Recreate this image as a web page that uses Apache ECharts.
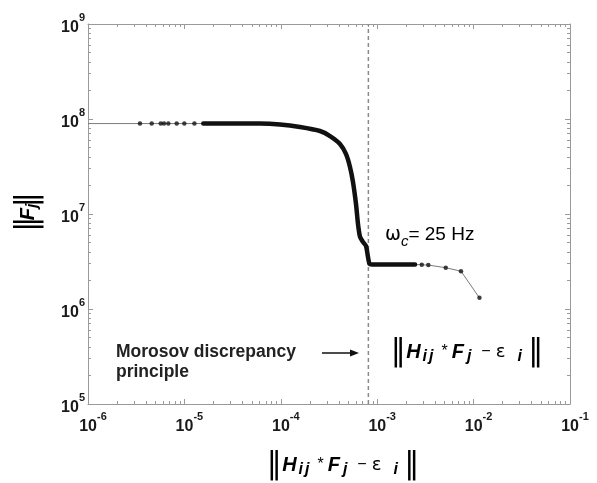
<!DOCTYPE html>
<html>
<head>
<meta charset="utf-8">
<script src="https://cdn.jsdelivr.net/npm/echarts@6/dist/echarts.min.js"></script>
<style>
html,body{margin:0;padding:0;background:#fff;}
#c{width:597px;height:483px;}
</style>
</head>
<body>
<div id="c"></div>
<script>
// ---- data ----
const xMin = 1e-6, xMax = 1e-1;
const yMin = 1e5, yMax = 1e9;
// tick decades
const xDecades = [1e-6, 1e-5, 1e-4, 1e-3, 1e-2];
const yDecades = [1e5, 1e6, 1e7, 1e8];
const minorMult = [2, 3, 4, 5, 6, 7, 8, 9];
// sparse leading dots on the plateau
const leadX = [1e-6, 3.46e-6, 4.58e-6, 5.68e-6, 6.14e-6, 6.81e-6, 8.32e-6, 9.98e-6, 1.27e-5, 1.57e-5];
const leadY = [8.95e7, 8.95e7, 8.95e7, 8.95e7, 8.95e7, 8.95e7, 8.95e7, 8.95e7, 8.95e7, 8.95e7];
// dense part of the L-curve (overlapping points)
const denseX = [1.57e-5, 6.08e-5, 9.81e-5, 1.58e-4, 2.55e-4, 3.24e-4, 4.11e-4, 4.74e-4, 5.22e-4, 5.61e-4, 6.03e-4, 6.32e-4, 6.64e-4, 7.13e-4, 7.66e-4, 8.03e-4, 8.32e-4, 8.83e-4, 2.47e-3];
const denseY = [8.95e7, 8.95e7, 8.75e7, 8.24e7, 7.48e7, 6.62e7, 5.46e7, 4.29e7, 3.13e7, 2.17e7, 1.27e7, 7.85e6, 5.73e6, 5.07e6, 4.60e6, 3.52e6, 2.98e6, 2.94e6, 2.94e6];
// sparse trailing dots
const tailX = [2.47e-3, 2.90e-3, 3.39e-3, 5.14e-3, 7.40e-3, 1.15e-2];
const tailY = [2.94e6, 2.92e6, 2.90e6, 2.72e6, 2.50e6, 1.31e6];
// Morosov discrepancy level
const morosovX = 8.1e-4;

const zip = (xs, ys) => xs.map((x, i) => [x, ys[i]]);
const allPts = zip(leadX, leadY).concat(zip(denseX, denseY).slice(1), zip(tailX, tailY).slice(1));
const dotPts = zip(leadX, leadY).slice(1, -1).concat(zip(tailX, tailY).slice(1));
const minorOf = decs => decs.flatMap(d => minorMult.map(m => m * d));

const F = 'Liberation Sans, Arial, sans-serif';
const axisGray = '#9a9a9a';

function expOf(v) { return Math.round(Math.log10(v)); }
const labelRich = {
  sp: { width: 10 },
  b: { fontSize: 16, fontWeight: 'bold', fontFamily: F, color: '#1a1a1a', lineHeight: 24, verticalAlign: 'bottom' },
  s: { fontSize: 11, fontWeight: 'bold', fontFamily: F, color: '#1a1a1a', lineHeight: 24, verticalAlign: 'top' }
};

function mkAxis(kind, pos, major, show) {
  const isX = kind === 'x';
  const ax = {
    type: 'log', logBase: 10, position: pos, gridIndex: 0,
    min: isX ? xMin : yMin, max: isX ? xMax : yMax,
    axisLine: { show: major, onZero: false, lineStyle: { color: axisGray, width: 1 } },
    splitLine: { show: false },
    axisTick: { show: true, inside: true, length: major ? 5 : 3, lineStyle: { color: axisGray } },
    axisLabel: { show: false }
  };
  if (!major) {
    ax.axisTick.customValues = minorOf(isX ? xDecades : yDecades);
  }
  if (show) {
    ax.axisLabel = isX ? {
      margin: 7,
      formatter: v => '{sp|}{b|10}{s|' + expOf(v) + '}',
      rich: labelRich
    } : {
      margin: 3,
      formatter: v => '{b|10}{s|' + expOf(v) + '}',
      rich: labelRich
    };
  }
  return ax;
}

const normRich = (size) => {
  const r = {
    bar: { fontSize: 30, fontFamily: 'DejaVu Sans', color: '#666', lineHeight: 32, width: 8, align: 'center' },
    m: { fontSize: size, fontWeight: 'bold', fontStyle: 'italic', fontFamily: F, color: '#111', lineHeight: 32 },
    sub: { fontSize: size - 4, fontWeight: 'bold', fontStyle: 'italic', fontFamily: F, color: '#111', lineHeight: 32, verticalAlign: 'bottom', padding: [0, 0, 3, 0] },
    op: { fontSize: size - 4, fontFamily: F, color: '#111', lineHeight: 32 },
    eps: { fontSize: size - 2, fontFamily: 'DejaVu Sans', color: '#111', lineHeight: 32 }
  };
  [1, 2, 3, 4, 5, 8, 10, 12, 13].forEach(n => { r['g' + n] = { width: n, lineHeight: 32 }; });
  return r;
};
const normText = '{bar|‖}{g4|}{m|H}{g2|}{sub|i}{g2|}{sub|j}{g8|}{op|*}{g4|}{m|F}{g3|}{sub|j}{g10|}{op|−}{g5|}{eps|ε}{g12|}{sub|i}{g10|}{bar|‖}';
const yNameText = '{bar|‖}{m|F}{sub|j}{bar|‖}';

const chart = echarts.init(document.getElementById('c'));
chart.setOption({
  backgroundColor: '#ffffff',
  animation: false,
  grid: { left: 88, right: 27, top: 24, bottom: 79, containLabel: false },
  xAxis: [mkAxis('x', 'bottom', true, true), mkAxis('x', 'top', true, false), mkAxis('x', 'bottom', false, false), mkAxis('x', 'top', false, false)],
  yAxis: [mkAxis('y', 'left', true, true), mkAxis('y', 'right', true, false), mkAxis('y', 'left', false, false), mkAxis('y', 'right', false, false)],
  series: [
    {
      type: 'line', data: [[morosovX, yMin], [morosovX, yMax]], xAxisIndex: 0, yAxisIndex: 0,
      symbol: 'none', lineStyle: { color: '#8a8a8a', type: [4, 3], width: 1.5 }, z: 1, silent: true
    },
    {
      type: 'line', data: allPts, xAxisIndex: 0, yAxisIndex: 0,
      symbol: 'none', lineStyle: { color: '#7a7a7a', width: 1 }, z: 2
    },
    {
      type: 'line', data: zip(denseX, denseY), xAxisIndex: 0, yAxisIndex: 0, smooth: 0.2,
      symbol: 'none', lineStyle: { color: '#111', width: 4.5, join: 'round', cap: 'round' }, z: 3
    },
    {
      type: 'scatter', data: dotPts, xAxisIndex: 0, yAxisIndex: 0,
      symbol: 'circle', symbolSize: 4.5, itemStyle: { color: '#111' }, z: 4
    }
  ],
  graphic: [
    { type: 'text', x: 28, y: 212, rotation: Math.PI / 2, silent: true,
      style: { text: yNameText, rich: normRich(20), align: 'center', verticalAlign: 'middle' } },
    { type: 'text', x: 343, y: 465, silent: true,
      style: { text: normText, rich: normRich(20), align: 'center', verticalAlign: 'middle' } },
    { type: 'text', x: 467, y: 352, silent: true,
      style: { text: normText, rich: normRich(20), align: 'center', verticalAlign: 'middle' } },
    { type: 'text', x: 385, y: 235, silent: true,
      style: { text: '{w|ω}{c|c}{t|= 25 Hz}', verticalAlign: 'middle',
        rich: {
          w: { fontSize: 19, fontFamily: 'DejaVu Sans', color: '#222', lineHeight: 28 },
          c: { fontSize: 15, fontStyle: 'italic', fontFamily: F, color: '#222', lineHeight: 28, verticalAlign: 'bottom' },
          t: { fontSize: 19, fontFamily: F, color: '#222', lineHeight: 28 }
        } } },
    { type: 'text', x: 116, y: 342, silent: true,
      style: { text: 'Morosov discrepancy\nprinciple', fontSize: 17.5, fontWeight: 'bold', fontFamily: F, fill: '#222', lineHeight: 20 } },
    { type: 'line', silent: true, shape: { x1: 322, y1: 353, x2: 352, y2: 353 }, style: { stroke: '#111', lineWidth: 1.5 } },
    { type: 'polygon', silent: true, shape: { points: [[359, 353], [350, 349.5], [350, 356.5]] }, style: { fill: '#111' } }
  ]
});
</script>
</body>
</html>
